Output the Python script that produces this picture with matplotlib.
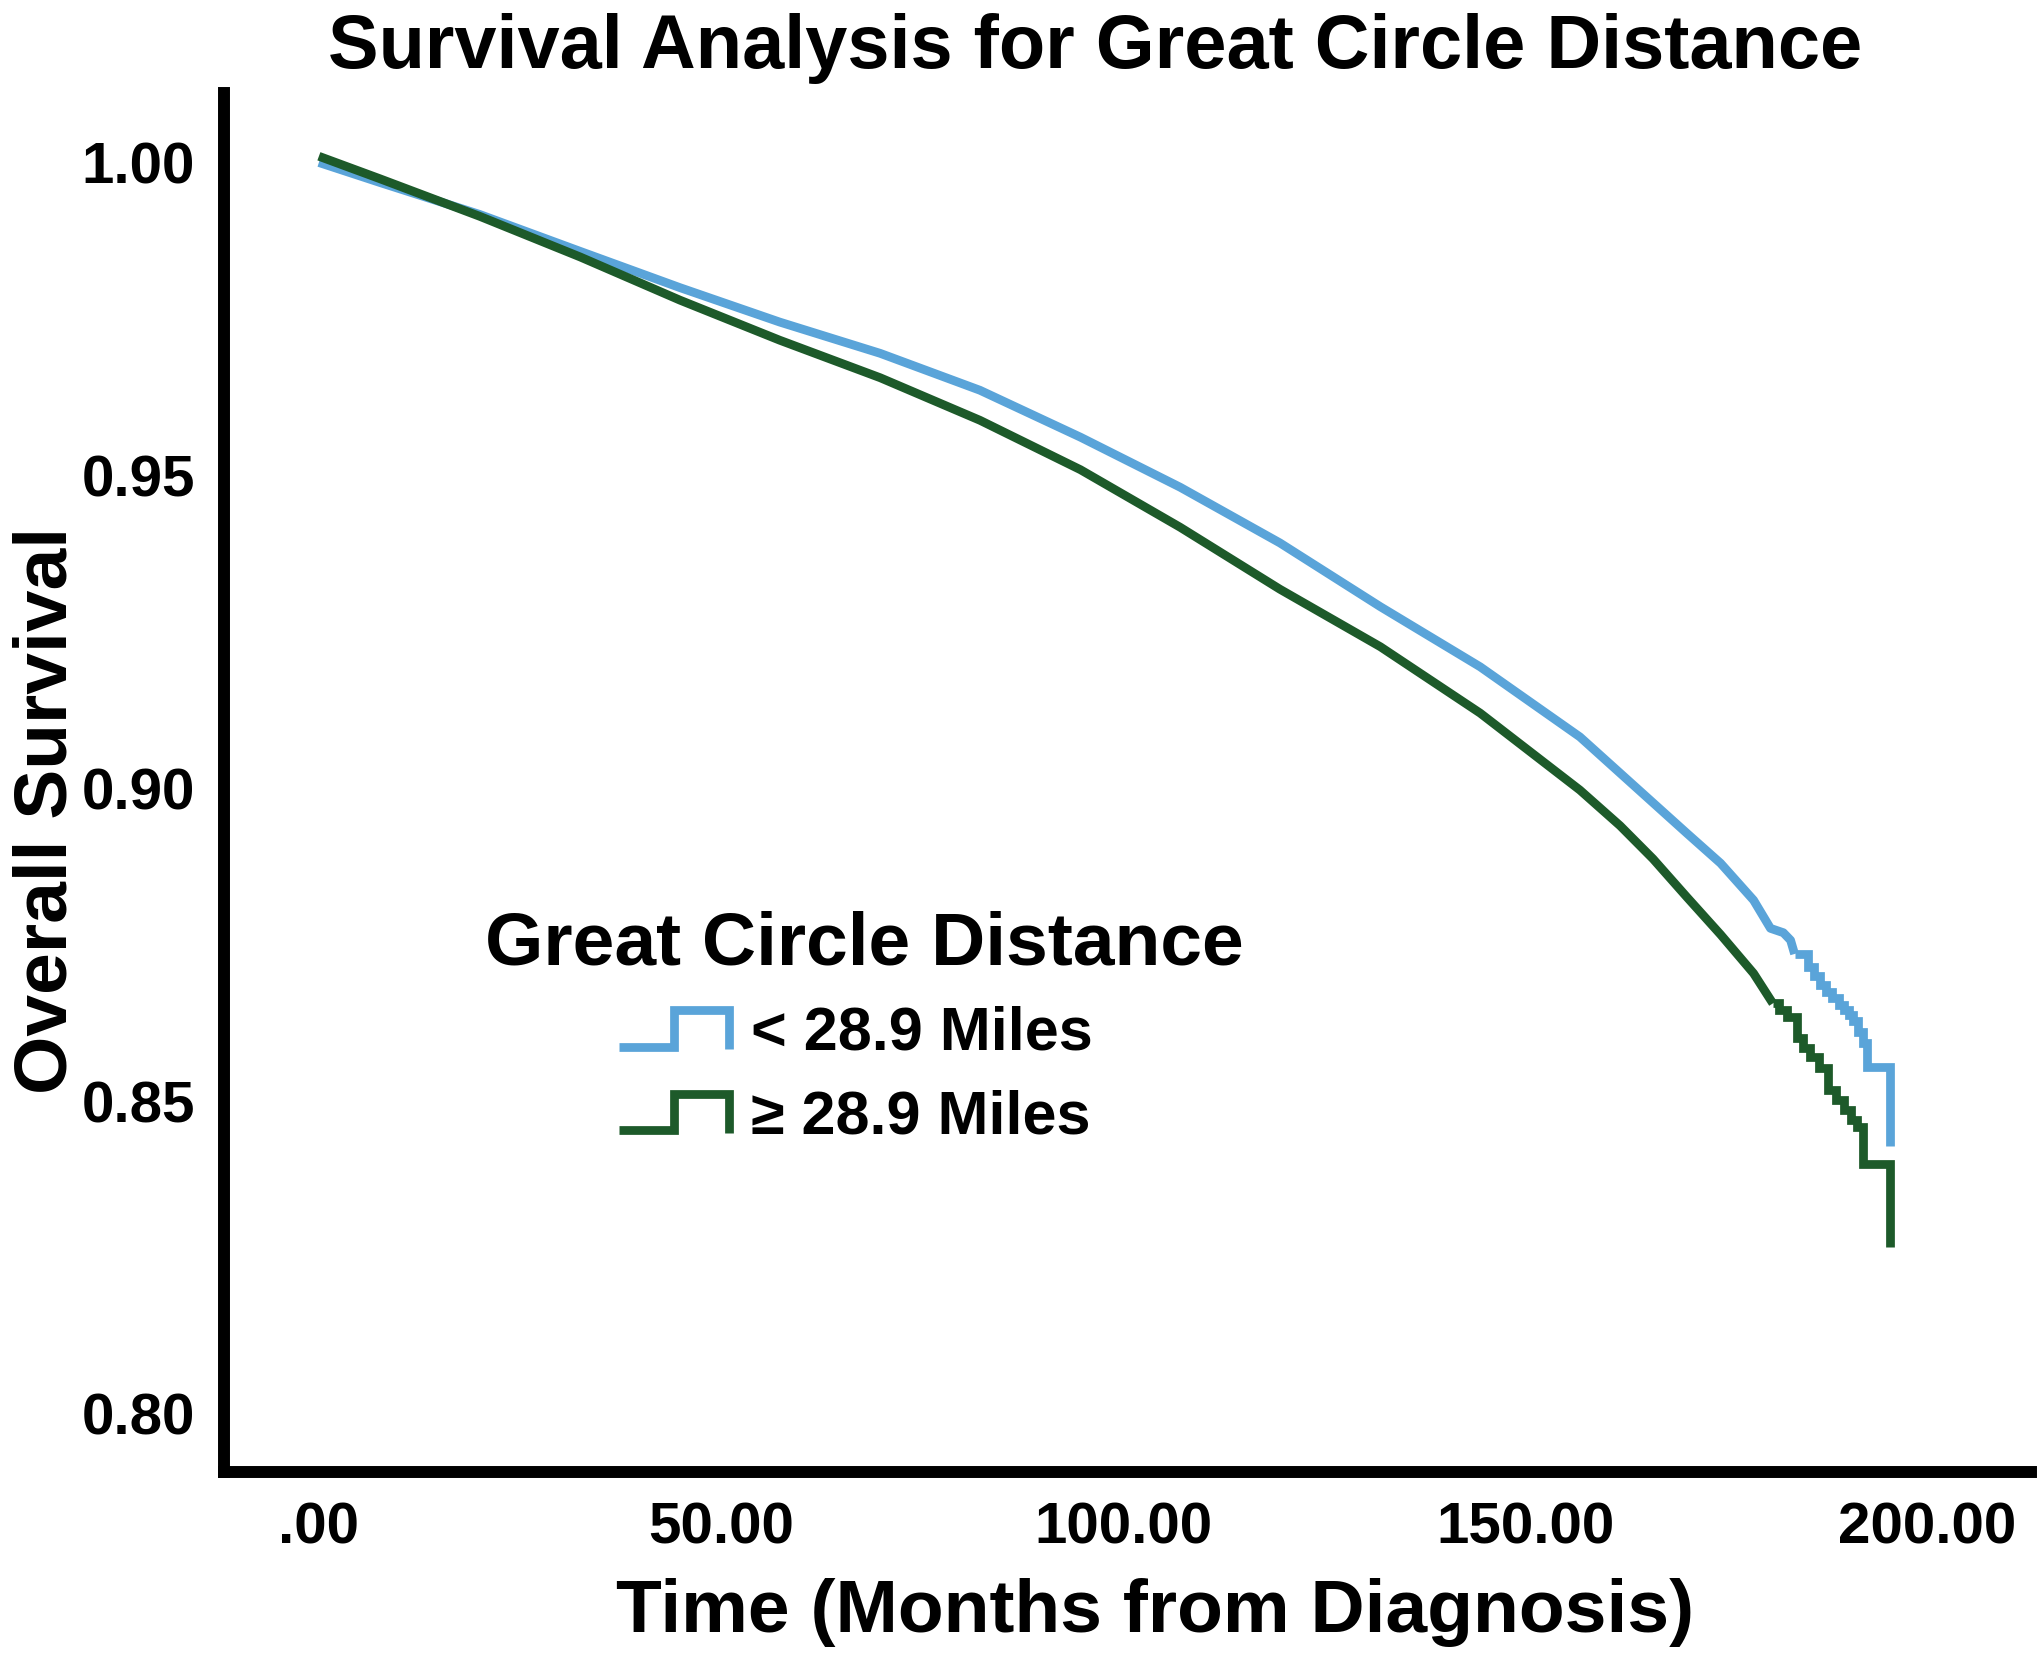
import matplotlib
matplotlib.use("Agg")
import matplotlib.pyplot as plt
from matplotlib.legend_handler import HandlerBase
from matplotlib.lines import Line2D

plt.rcParams['font.family'] = ['Liberation Sans', 'DejaVu Sans']
plt.rcParams['font.weight'] = 'bold'

# ---- data ----
group_labels = ['< 28.9 Miles', '\u2265 28.9 Miles']
group_colors = ['#5aa4d9', '#1d5a2a']

# smooth part of the Kaplan-Meier curves
near_t = [0, 7.6, 20, 32.5, 44.9, 57.3, 69.8, 82.2, 94.7, 107.1, 119.5, 132, 144.4,
          156.8, 170.1, 174.3, 178.4, 180.5, 182.1, 183.0, 183.5]
near_s = [1.000, 0.9968, 0.9917, 0.9858, 0.9800, 0.9745, 0.9695, 0.9636, 0.9561, 0.9481,
          0.9392, 0.9290, 0.9194, 0.9082, 0.8928, 0.8880, 0.8821, 0.8776, 0.8769, 0.8757, 0.8735]
far_t = [0, 7.6, 20, 32.5, 44.9, 57.3, 69.8, 82.2, 94.7, 107.1, 119.5, 132, 144.4,
         156.8, 161.8, 165.9, 170.1, 174.3, 178.4, 180.8]
far_s = [1.001, 0.9974, 0.9914, 0.9849, 0.9780, 0.9716, 0.9656, 0.9588, 0.9509, 0.9417,
         0.9318, 0.9226, 0.9120, 0.8997, 0.8940, 0.8887, 0.8826, 0.8766, 0.8704, 0.8656]

# step tail (event times, survival after the event)
near_tail_t = [185.2, 185.9, 186.7, 187.4, 188.2, 189.0, 189.6, 190.3, 190.8, 191.4, 192.0, 192.5, 195.4]
near_tail_s = [0.8714, 0.8700, 0.8685, 0.8675, 0.8664, 0.8654, 0.8646, 0.8637, 0.8628, 0.8610, 0.8593, 0.8555, 0.8428]
far_tail_t = [181.5, 182.6, 183.8, 184.6, 185.4, 186.5, 187.6, 188.6, 189.6, 190.5, 191.3, 192.0, 195.4]
far_tail_s = [0.8645, 0.8634, 0.8600, 0.8585, 0.8570, 0.8552, 0.8518, 0.8502, 0.8486, 0.8470, 0.8458, 0.8400, 0.8266]

x_ticks = [0, 50, 100, 150, 200]
x_ticklabels = ['.00', '50.00', '100.00', '150.00', '200.00']
y_ticks = [0.80, 0.85, 0.90, 0.95, 1.00]
y_ticklabels = ['0.80', '0.85', '0.90', '0.95', '1.00']


class StepHandler(HandlerBase):
    # draws the little "_|‾|" step glyph used in the legend
    def create_artists(self, legend, orig_handle, xdescent, ydescent,
                       width, height, fontsize, trans):
        x0 = -xdescent + 0.55 * width
        x1 = -xdescent + width
        xm = x0 + 0.5 * (x1 - x0)
        ylo = -ydescent + 0.08 * height
        yhi = -ydescent + 0.93 * height
        ln = Line2D([x0, xm, xm, x1, x1], [ylo, ylo, yhi, yhi, ylo - 0.05 * height],
                    color=orig_handle.get_color(), lw=orig_handle.get_linewidth(),
                    solid_joinstyle='miter', solid_capstyle='butt', transform=trans)
        return [ln]


fig = plt.figure(figsize=(20.4, 16.59), dpi=100)
ax = fig.add_axes([0.1098, 0.1127, 0.8858, 0.8312])

lw = 6.3
series = [(near_t, near_s, near_tail_t, near_tail_s),
          (far_t, far_s, far_tail_t, far_tail_s)]
handles = []
for (t, s, tt, ts), lbl, col in zip(series, group_labels, group_colors):
    h, = ax.plot(t, s, color=col, lw=lw, solid_capstyle='butt', label=lbl)
    ax.step([t[-1]] + tt, [s[-1]] + ts, where='post', color=col, lw=lw,
            solid_joinstyle='miter', solid_capstyle='butt')
    handles.append(h)

ax.set_xlim(-11.8, 212.9)
ax.set_ylim(0.7907, 1.0111)
ax.set_xticks(x_ticks)
ax.set_xticklabels(x_ticklabels)
ax.set_yticks(y_ticks)
ax.set_yticklabels(y_ticklabels)
ax.tick_params(length=0, pad=21, labelsize=42)

for side in ['top', 'right']:
    ax.spines[side].set_visible(False)
for side in ['left', 'bottom']:
    ax.spines[side].set_linewidth(8.6)
    ax.spines[side].set_color('black')

ax.set_xlabel('Time (Months from Diagnosis)', fontsize=54, fontweight='bold')
ax.xaxis.set_label_coords(0.515, -0.077)
ax.set_ylabel('Overall Survival', fontsize=54, fontweight='bold')
ax.yaxis.set_label_coords(-0.079, 0.48)

fig.text(0.537, 0.959, 'Survival Analysis for Great Circle Distance',
         ha='center', va='baseline', fontsize=54.5, fontweight='bold')

leg = ax.legend(handles=handles, labels=group_labels,
                handler_map={h: StepHandler() for h in handles},
                title='Great Circle Distance', title_fontsize=54,
                fontsize=44, frameon=False, loc='upper left',
                bbox_to_anchor=(0.1444, 0.4075), borderaxespad=0, borderpad=0,
                handlelength=4.0, handletextpad=0.36, labelspacing=0.44,
                alignment='left')
leg.get_title().set_fontweight('bold')

fig.savefig('out.png', dpi=100)
